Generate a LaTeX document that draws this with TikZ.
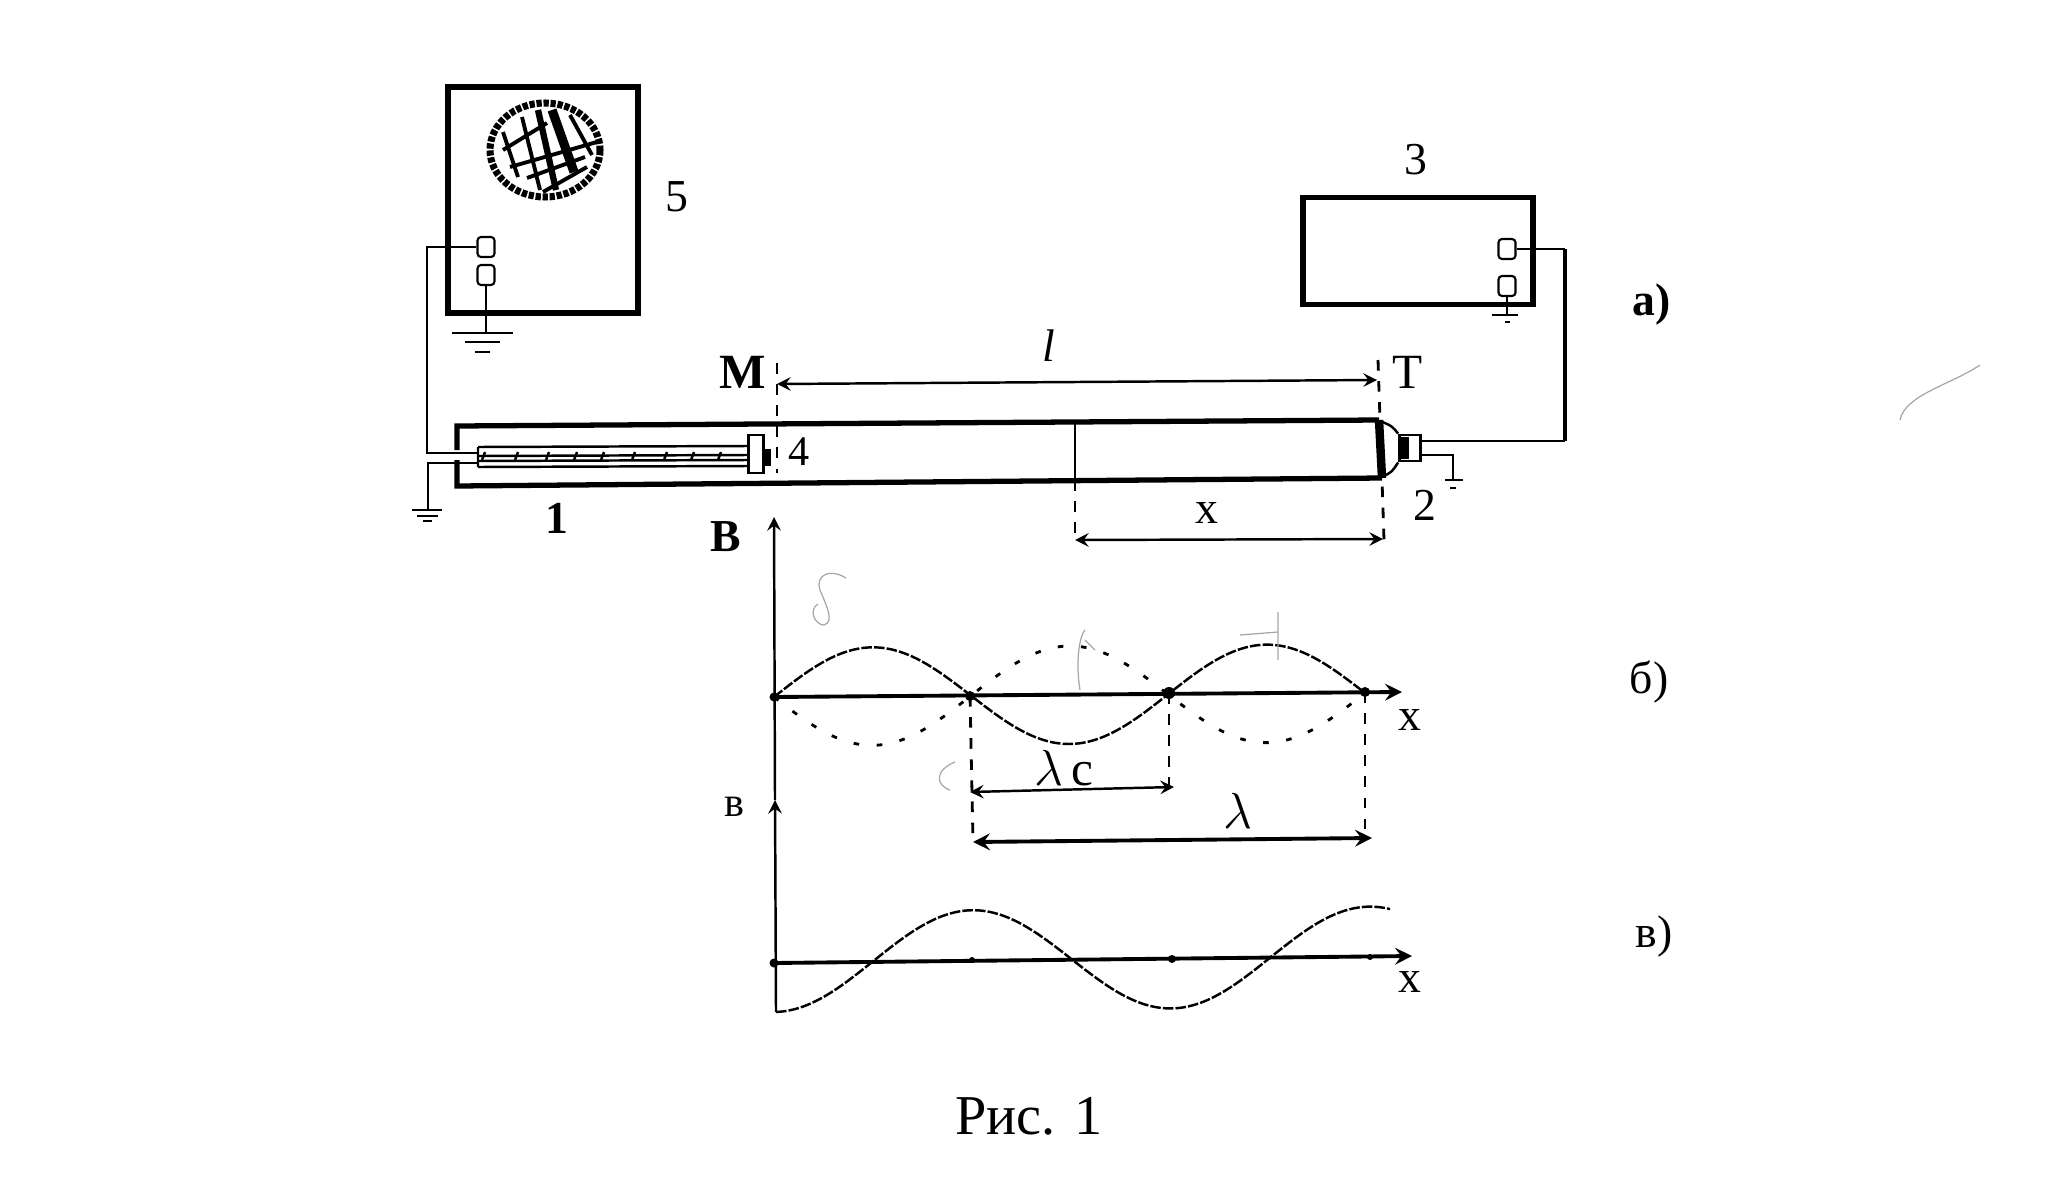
\documentclass[tikz,border=0pt]{standalone}
\usepackage{fontspec}
\setmainfont{Liberation Serif}
\tikzset{
  boxthick/.style={draw,line width=1.6pt,inner sep=0pt},
  term/.style={draw,line width=0.6pt,rounded corners=1pt,inner sep=0pt,minimum width=0.17cm,minimum height=0.2cm},
  wire/.style={line width=0.7pt},
  wall/.style={line width=1.5pt},
  axisline/.style={line width=1.1pt},
  markline/.style={line width=0.8pt,dash pattern=on 3pt off 3pt},
  fineline/.style={line width=0.7pt},
  wavecurve/.style={line width=0.7pt,dash pattern=on 3pt off 0.6pt},
  ghostcurve/.style={line width=0.8pt,dash pattern=on 1.6pt off 5pt},
  pencil/.style={line width=0.35pt,gray!70},
  lab/.style={font=\fontsize{13}{15}\selectfont,inner sep=0pt},
  labb/.style={font=\fontsize{13}{15}\selectfont\bfseries,inner sep=0pt},
}
\begin{document}
\begin{tikzpicture}[x=0.01cm,y=-0.01cm,>=stealth]
\useasboundingbox (0,0) rectangle (2064,1182);
% oscilloscope
\node[boxthick,minimum width=1.9cm,minimum height=2.26cm] (scope) at (543,200) {};
\draw[line width=2pt,dash pattern=on 1.5pt off 0.5pt] (545,150) ellipse (55 and 47);
\draw[line width=1.1pt] (503,132)--(518,177) (522,117)--(540,190) (570,115)--(592,155)
  (503,150)--(547,123) (510,167)--(597,142) (527,178)--(585,157) (543,192)--(587,167);
\draw[line width=1.8pt] (538,110)--(556,190);
\draw[line width=2.6pt] (552,110)--(574,172);
\node[term] (scopeA) at (486,247) {};
\node[term] (scopeB) at (486,275) {};
\coordinate (gndA) at (486,333);
\draw[wire] (scopeB.south)--(gndA);
\draw[fineline] (452,333)--(513,333) (465,342)--(500,342) (475,352)--(490,352);
% generator
\node[boxthick,minimum width=2.3cm,minimum height=1.07cm] (gen) at (1418,251) {};
\node[term] (genA) at (1507,249) {};
\node[term] (genB) at (1507,286) {};
\coordinate (gndB) at (1507,315);
\draw[wire] (genB.south)--(gndB);
\draw[fineline] (1492,315)--(1518,315) (1505,322)--(1510,322);
% tube
\draw[wall] (457,450)--(457,426)--(1379,420) (457,460)--(457,486)--(1382,478);
\draw[line width=2.4pt] (1379,420)--(1382,478);
\draw[fineline] (1075,421)--(1075,480);
% probe
\draw[fineline] (478,447)--(748,446) (478,467)--(748,466) (478,447)--(478,467);
\draw[fineline] (478,456)--(748,455) (478,461)--(748,460);
\draw[fineline] (482,460)--(485,452) (515,460)--(518,452) (546,460)--(549,452) (574,460)--(577,452) (601,460)--(604,452)
  (632,460)--(635,452) (664,460)--(667,452) (691,460)--(694,452) (718,460)--(721,452);
\node[draw,line width=0.8pt,inner sep=0pt,minimum width=0.15cm,minimum height=0.38cm] (piston) at (756,454) {};
\fill (765,449) rectangle (771,466);
\coordinate (corner5) at (427,453);
\coordinate (probeIn) at (478,453);
\coordinate (gndCin) at (428,463);
\coordinate (probeOut) at (478,463);
\coordinate (gndC) at (428,510);
\draw[wire] (scopeA.west)-|(corner5)--(probeIn);
\draw[wire] (probeOut)--(gndCin)--(gndC);
\draw[fineline] (412,510)--(442,510) (417,516)--(438,516) (423,521)--(432,521);
% horn and telephone
\node[draw,line width=0.8pt,inner sep=0pt,minimum width=0.21cm,minimum height=0.26cm] (phone) at (1410,448) {};
\fill (1400,437) rectangle (1409,459);
\draw[fineline] (1380,421) .. controls (1392,426) .. (phone.north west);
\draw[fineline] (1382,477) .. controls (1392,472) .. (phone.south west);
\coordinate (phoneA) at (1421,441);
\coordinate (phoneB) at (1421,455);
\coordinate (corner3) at (1565,441);
\coordinate (gndD) at (1453,480);
\draw[wire] (phoneA)--(corner3);
\draw[line width=1.1pt] (corner3)--(corner3|-genA);
\draw[wire] (corner3|-genA)--(genA.east);
\draw[wire] (phoneB)-|(gndD);
\draw[fineline] (1445,480)--(1463,480) (1450,488)--(1456,488);
% M, T and distances
\coordinate (markM) at (777,384);
\coordinate (markT) at (1377,380);
\draw[markline] (777,363)--(777,473);
\draw[markline] (1378,360)--(1384,540);
\draw[<->,fineline] (markM)--(markT);
\coordinate (xLeft) at (1075,540);
\coordinate (xRight) at (1383,539);
\draw[markline] (1075,480)--(xLeft);
\draw[<->,fineline] (xLeft)--(xRight);
% upper graph
\coordinate (axisTop) at (774,517);
\coordinate (axisMid) at (775,800);
\coordinate (axisEnd) at (776,1012);
\draw[->,fineline] (axisMid)--(axisTop);
\draw[->,fineline] (axisEnd)--(axisMid);
\coordinate (waveA) at (774,697);
\coordinate (tipA) at (1402,692);
\draw[->,axisline] (waveA)--(tipA);
\draw[smooth,wavecurve,samples=120,domain=774:1365] plot(\x,{697-(\x-774)*0.0068-49*sin((\x-774)/197*180)});
\draw[smooth,ghostcurve,samples=120,domain=774:1365] plot(\x,{697-(\x-774)*0.0068+49*sin((\x-774)/197*180)});
\fill (waveA) circle (4.5);
\coordinate (nodeA) at (970,696);
\coordinate (nodeB) at (1169,693);
\coordinate (nodeC) at (1365,692);
\fill (nodeA) circle (5) (nodeB) circle (6) (nodeC) circle (5);
\coordinate (lcLeft) at (970,792);
\coordinate (lcRight) at (1174,787);
\coordinate (lLeft) at (973,842);
\coordinate (lRight) at (1372,838);
\draw[markline] (nodeA)--(lLeft);
\draw[markline] (nodeB)--(1169,787);
\draw[markline] (nodeC)--(1365,838);
\draw[<->,fineline] (lcLeft)--(lcRight);
\draw[<->,axisline] (lLeft)--(lRight);
% lower graph
\coordinate (waveB) at (774,963);
\coordinate (tipB) at (1412,956);
\draw[->,axisline] (waveB)--(tipB);
\draw[smooth,wavecurve,samples=120,domain=776:1390] plot(\x,{962-(\x-774)*0.009+50*cos((\x-774)/198.5*180)});
\fill (waveB) circle (4.5) (972,960) circle (3) (1172,959) circle (4) (1370,957) circle (3);
% pencil marks
\draw[pencil] (846,578) .. controls (830,568) and (815,575) .. (820,590) .. controls (826,605) and (835,622) .. (824,625) .. controls (815,625) and (808,610) .. (818,604);
\draw[pencil] (1080,690) .. controls (1075,660) and (1080,635) .. (1085,630) (1085,640)--(1095,650);
\draw[pencil] (950,790) .. controls (935,785) and (935,770) .. (955,762);
\draw[pencil] (1278,660)--(1278,612) (1240,635)--(1278,632);
\draw[pencil] (1900,420) .. controls (1905,395) and (1950,385) .. (1980,365);
% labels
\node[lab] (num5) at (677,197) {5};
\node[lab] (num3) at (1416,160) {3};
\node[labb] (num1) at (557,518) {1};
\node[lab] (num2) at (1425,505) {2};
\node[lab,font=\fontsize{12}{14}\selectfont] (num4) at (799,452) {4};
\node[labb,font=\fontsize{14}{16}\selectfont\bfseries] (labM) at (743,372) {M};
\node[lab,font=\fontsize{14}{16}\selectfont] (labT) at (1408,372) {T};
\node[lab] (labl) at (1049,346) {\itshape l};
\node[lab] (labx) at (1207,513) {x};
\node[labb] (labB) at (726,537) {B};
\node[lab,font=\fontsize{12}{14}\selectfont] (labv) at (734,807) {в};
\node[lab,font=\fontsize{14}{16}\selectfont] (lablc) at (1064,768) {$\lambda$\,c};
\node[lab,font=\fontsize{14}{16}\selectfont] (labla) at (1238,811) {$\lambda$};
\node[lab] (labxa) at (1410,720) {x};
\node[lab] (labxb) at (1410,982) {x};
\node[labb] (parta) at (1652,305) {а)};
\node[lab] (partb) at (1649,682) {б)};
\node[lab] (partc) at (1654,936) {в)};
\node[inner sep=0pt,font=\fontsize{16}{18}\selectfont] (caption) at (1029,1116) {Рис. 1};
\end{tikzpicture}
\end{document}
